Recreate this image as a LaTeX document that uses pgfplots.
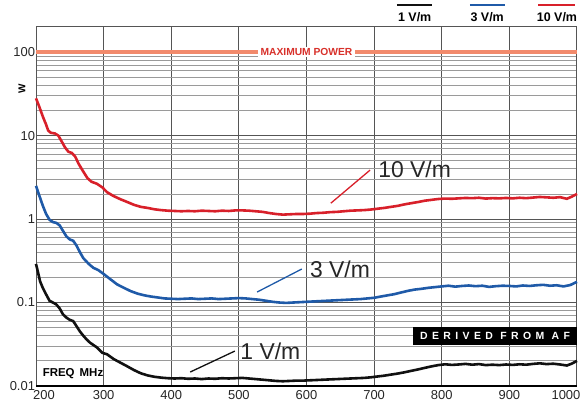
\documentclass[border=0pt]{standalone}
\usepackage{fontspec}
\setmainfont{Liberation Sans}
\usepackage{pgfplots}
\pgfplotsset{compat=1.18}
\definecolor{curvered}{HTML}{D8202A}
\definecolor{curveblue}{HTML}{1F5AA8}
\definecolor{curveblack}{HTML}{111111}
\definecolor{maxpow}{HTML}{F28A6C}
\definecolor{maxtext}{HTML}{D8302A}
\definecolor{gridmajor}{HTML}{555555}
\definecolor{gridminor}{HTML}{9A9A9A}

% 10 V/m
\pgfplotstableread{
f w
200 28
205 22
210 17
215 13.5
218 11.5
222 10.8
228 10.6
233 10
238 8.5
243 7.2
248 6.4
253 6.2
258 5.6
263 4.6
270 3.7
276 3.1
282 2.8
290 2.65
298 2.4
305 2.1
314 1.9
324 1.74
335 1.6
345 1.48
355 1.40
365 1.36
375 1.31
385 1.28
395 1.26
405 1.25
415 1.24
425 1.25
435 1.24
445 1.26
455 1.25
465 1.24
475 1.26
485 1.25
495 1.27
505 1.27
515 1.26
525 1.24
535 1.22
545 1.18
555 1.15
565 1.13
575 1.14
585 1.15
595 1.15
605 1.16
615 1.18
625 1.19
635 1.21
645 1.22
655 1.24
665 1.26
675 1.27
685 1.28
695 1.30
705 1.33
715 1.36
725 1.40
735 1.44
745 1.50
755 1.55
765 1.60
775 1.66
785 1.70
795 1.74
805 1.76
815 1.75
825 1.77
835 1.79
845 1.78
855 1.80
865 1.76
875 1.78
885 1.77
895 1.79
905 1.77
915 1.80
925 1.78
935 1.81
945 1.84
955 1.82
965 1.80
975 1.83
985 1.75
992 1.85
1000 2.0
}\tenvm

% 3 V/m
\pgfplotstableread{
f w
200 2.5
205 1.9
210 1.45
215 1.15
220 0.98
225 0.92
230 0.90
235 0.84
240 0.72
245 0.62
250 0.57
255 0.55
260 0.48
265 0.40
270 0.34
278 0.29
285 0.26
292 0.245
300 0.22
310 0.19
320 0.165
330 0.15
340 0.137
350 0.128
360 0.122
370 0.118
380 0.115
390 0.112
400 0.111
410 0.110
420 0.111
430 0.112
440 0.110
450 0.111
460 0.112
470 0.110
480 0.111
490 0.112
500 0.113
510 0.112
520 0.110
530 0.108
540 0.105
550 0.102
560 0.100
570 0.099
580 0.100
590 0.101
600 0.102
610 0.103
620 0.104
630 0.105
640 0.106
650 0.107
660 0.108
670 0.109
680 0.110
690 0.112
700 0.114
710 0.118
720 0.122
730 0.126
740 0.132
750 0.138
760 0.143
770 0.146
780 0.150
790 0.153
800 0.156
810 0.159
820 0.155
830 0.158
840 0.160
850 0.157
860 0.159
870 0.154
880 0.157
890 0.159
900 0.158
910 0.156
920 0.160
930 0.158
940 0.161
950 0.163
960 0.159
970 0.161
980 0.156
990 0.162
1000 0.177
}\threevm

% 1 V/m
\pgfplotstableread{
f w
200 0.29
203 0.23
206 0.18
210 0.15
215 0.125
220 0.105
225 0.10
230 0.095
235 0.085
240 0.072
245 0.066
250 0.062
255 0.060
260 0.052
265 0.045
270 0.040
275 0.036
280 0.033
290 0.029
298 0.025
305 0.024
315 0.021
325 0.019
335 0.0172
345 0.0155
355 0.0142
365 0.0134
375 0.0129
385 0.0126
395 0.0124
405 0.0123
415 0.0124
425 0.0122
435 0.0123
445 0.0121
455 0.0123
465 0.0122
475 0.0124
485 0.0123
495 0.0124
505 0.0125
515 0.0123
525 0.0121
535 0.0119
545 0.0117
555 0.0115
565 0.0114
575 0.0115
585 0.0116
595 0.0116
605 0.0117
615 0.0118
625 0.0119
635 0.0120
645 0.0121
655 0.0122
665 0.0123
675 0.0124
685 0.0125
695 0.0127
705 0.0130
715 0.0133
725 0.0137
735 0.0141
745 0.0146
755 0.0152
765 0.0158
775 0.0165
785 0.0172
795 0.0178
805 0.0182
815 0.0179
825 0.0181
835 0.0184
845 0.0180
855 0.0183
865 0.0178
875 0.0180
885 0.0178
895 0.0181
905 0.0179
915 0.0182
925 0.0180
935 0.0184
945 0.0187
955 0.0183
965 0.0185
975 0.0181
985 0.0176
992 0.0185
1000 0.0200
}\onevm

\begin{document}
\begin{tikzpicture}
\useasboundingbox (0,0) rectangle (583bp,414bp);
\begin{axis}[
    at={(36bp,28bp)}, anchor=south west,
    scale only axis,
    width=541bp, height=359bp,
    ymode=log,
    xmin=200, xmax=1000,
    ymin=0.01, ymax=200,
    xtick={200,300,...,1000},
    xticklabels={\kern16bp 200,300,400,500,600,700,800,900,1000\kern22bp},
    ytick={0.01,0.1,1,10,100},
    yticklabels={0.01,0.1,1,10,100},
    major tick length=0pt, minor tick length=0pt,
    tick label style={font=\fontsize{13}{13}\selectfont, text=black!85},
    yticklabel style={xshift=2.5bp},
    xticklabel style={yshift=-1bp},
    xmajorgrids, ymajorgrids, yminorgrids,
    major grid style={gridmajor, line width=1bp},
    minor y grid style={gridminor, line width=0.8bp},
    axis line style={gridmajor, line width=1bp},
    clip=false,
]
% maximum power
\addplot[maxpow, line width=3.5bp] coordinates {(200,100) (1000,100)};
\node[fill=white, inner xsep=3bp, inner ysep=1bp, text=maxtext,
      font=\bfseries\fontsize{10.3}{10.3}\selectfont] at (axis cs:600,100) {MAXIMUM POWER};

\addplot[curvered, line width=2.6bp] table[x=f, y=w] {\tenvm};
\addplot[curveblue, line width=2.6bp] table[x=f, y=w] {\threevm};
\addplot[curveblack, line width=2.6bp] table[x=f, y=w] {\onevm};

\draw[black, line width=2.5bp] (rel axis cs:0,0) -- (rel axis cs:1,0);

% annotations
\draw[curvered, line width=1.3bp] (axis cs:636,1.55) -- (axis cs:694,3.86);
\node[anchor=west, inner sep=0pt, text=black!85, font=\fontsize{23}{23}\selectfont] at (axis cs:706,3.97) {10 V/m};
\draw[curveblue, line width=1.3bp] (axis cs:527,0.1336) -- (axis cs:593,0.252);
\node[anchor=west, inner sep=0pt, text=black!85, font=\fontsize{23}{23}\selectfont] at (axis cs:605,0.252) {3 V/m};
\draw[curveblack, line width=1.3bp] (axis cs:428,0.0147) -- (axis cs:494,0.0262);
\node[anchor=west, inner sep=0pt, text=black!85, font=\fontsize{23}{23}\selectfont] at (axis cs:502,0.0262) {1 V/m};

% labels inside
\node[font=\bfseries\fontsize{11.5}{11.5}\selectfont] at (rel axis cs:0.0684,0.0334) {FREQ\, MHz};
\fill[black] (rel axis cs:0.697,0.114) rectangle (rel axis cs:1,0.164);
\node[text=white, font=\bfseries\fontsize{10.5}{10.5}\selectfont\addfontfeatures{LetterSpace=42}] at (rel axis cs:0.8485,0.139) {DERIVED FROM AF};

% y label
\node[rotate=90, font=\bfseries\fontsize{10}{10}\selectfont] at (rel axis cs:-0.0259,0.827) {W};

% legend
\draw[curveblack, line width=2.6bp] (rel axis cs:0.667,1.061) -- (rel axis cs:0.732,1.061);
\node[font=\bfseries\fontsize{12.5}{12.5}\selectfont] at (rel axis cs:0.700,1.028) {1 V/m};
\draw[curveblue, line width=2.6bp] (rel axis cs:0.802,1.061) -- (rel axis cs:0.867,1.061);
\node[font=\bfseries\fontsize{12.5}{12.5}\selectfont] at (rel axis cs:0.834,1.028) {3 V/m};
\draw[curvered, line width=2.6bp] (rel axis cs:0.928,1.061) -- (rel axis cs:0.996,1.061);
\node[font=\bfseries\fontsize{12.5}{12.5}\selectfont] at (rel axis cs:0.963,1.028) {10 V/m};
\end{axis}
\end{tikzpicture}
\end{document}
